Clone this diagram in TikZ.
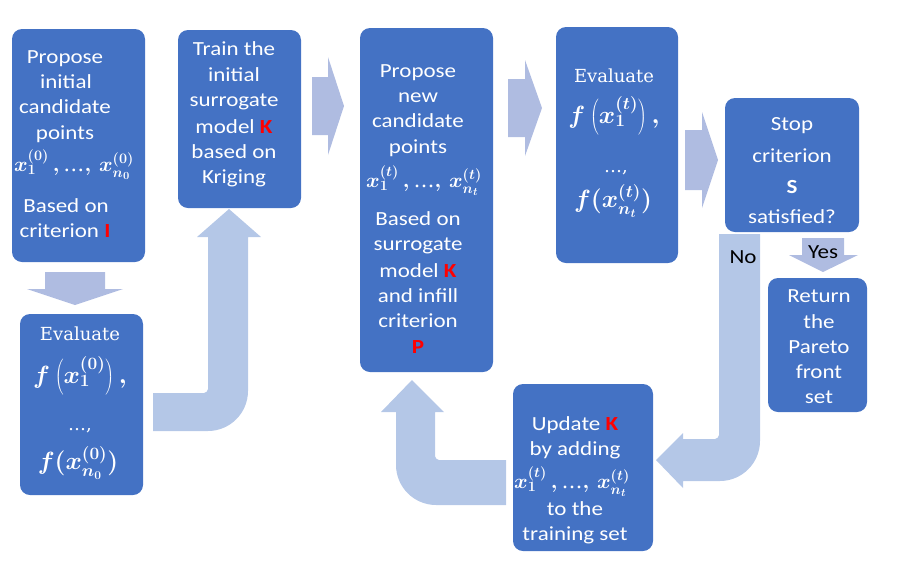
\documentclass[tikz,border=0pt]{standalone}
\usepackage{graphicx}
\usepackage{fontspec}
\newfontfamily\calib[FakeStretch=1.15]{Carlito}
\newfontfamily\camb{DejaVu Serif}
\definecolor{boxblue}{HTML}{4472C4}
\definecolor{arrowlight}{HTML}{B4C7E7}
\definecolor{arrowmid}{HTML}{AFBCE1}
\definecolor{kred}{HTML}{FF0000}
\newcommand{\rk}[1]{\textcolor{kred}{\textbf{#1}}}
\newcommand{\elli}{\mbox{\camb …}}
\tikzset{
  box/.style={fill=boxblue, rounded corners=10pt, inner sep=0pt, draw=none},
  txt/.style={text=white, anchor=base, inner sep=0pt, font=\calib\fontsize{20}{24}\selectfont},
  mtxt/.style={text=white, anchor=base, inner sep=0pt, font=\fontsize{21}{24}\selectfont\boldmath},
  ftxt/.style={text=white, anchor=base, inner sep=0pt, font=\fontsize{23}{26}\selectfont\boldmath},
  etxt/.style={text=white, anchor=base, inner sep=0pt, font=\camb\fontsize{18}{22}\selectfont},
  lbl/.style={text=black, anchor=base, inner sep=0pt, font=\calib\fontsize{20}{24}\selectfont},
  bigarrow/.style={fill=arrowlight, draw=none},
  smallarrow/.style={fill=arrowmid, draw=none}
}
\begin{document}
\begin{tikzpicture}[x=1pt,y=-1pt]
\useasboundingbox (0,0) rectangle (911,582);
% block arrows
\fill[smallarrow] (45,272) -- (105,272) -- (105,289) -- (123,289) -- (75,305) -- (27,289) -- (45,289) -- cycle;
\fill[smallarrow] (312,77) -- (328,77) -- (328,57) -- (344,106) -- (328,155) -- (328,135) -- (312,135) -- cycle;
\fill[smallarrow] (508,79) -- (525,79) -- (525,60) -- (542,108) -- (525,156) -- (525,137) -- (508,137) -- cycle;
\fill[smallarrow] (685,130) -- (702,130) -- (702,112) -- (718,160) -- (702,208) -- (702,190) -- (685,190) -- cycle;
\fill[smallarrow] (802,238) -- (844,238) -- (844,255) -- (858,255) -- (823,272) -- (789,255) -- (802,255) -- cycle;
\fill[bigarrow] (153,393) -- (204,393) .. controls (206,393) and (208,391) .. (208,389) -- (208,237) -- (197,237) -- (229,209) -- (261,237) -- (248,237) -- (248,391) .. controls (248,413) and (230,431) .. (208,431) -- (153,431) -- cycle;
\fill[bigarrow] (719,234) -- (760,234) -- (760,441) .. controls (760,463) and (742,481) .. (720,481) -- (683,481) -- (683,488) -- (656,460) -- (683,433) -- (683,439) -- (715,439) .. controls (717,439) and (719,437) .. (719,435) -- cycle;
\fill[bigarrow] (506,460) -- (439,460) .. controls (437,460) and (435,458) .. (435,456) -- (435,412) -- (444,412) -- (412,380) -- (381,412) -- (396,412) -- (396,465) .. controls (396,487) and (414,505) .. (436,505) -- (506,505) -- cycle;
\node[lbl] (no) at (743,263) {No};
\node[lbl] (yes) at (823,258) {Yes};
% boxes
\node[box, minimum width=133pt, minimum height=233pt] (b1) at (78.5,145.5) {};
\node[box, minimum width=123pt, minimum height=178pt] (b2) at (239.5,119) {};
\node[box, minimum width=123pt, minimum height=181pt] (e1) at (81.5,404.5) {};
\node[box, minimum width=133pt, minimum height=344pt] (b3) at (426.5,200) {};
\node[box, minimum width=122pt, minimum height=236pt] (e2) at (617,145) {};
\node[box, minimum width=134pt, minimum height=134pt] (st) at (792,165) {};
\node[box, minimum width=99pt, minimum height=134pt] (rt) at (817.5,345) {};
\node[box, minimum width=140pt, minimum height=167pt] (up) at (583,467.5) {};
% box 1
\node[txt] (b1a) at (65,63) {Propose};
\node[txt] (b1b) at (66,88) {initial};
\node[txt] (b1c) at (65,113) {candidate};
\node[txt] (b1d) at (65,139) {points};
\node[mtxt] (b1e) at (74,171) {$x_1^{(0)}\,,\elli,\,x_{n_0}^{(0)}$};
\node[txt] (b1f) at (66,212) {Based on};
\node[txt] (b1g) at (65,237) {criterion \rk{I}};
% box 2
\node[txt] (b2a) at (234,55) {Train the};
\node[txt] (b2b) at (234,81) {initial};
\node[txt] (b2c) at (234,106) {surrogate};
\node[txt] (b2d) at (234,133) {model \rk{K}};
\node[txt] (b2e) at (234,158) {based on};
\node[txt] (b2f) at (234,183) {Kriging};
% evaluate 1
\node[etxt] (e1a) at (80,340) {Evaluate};
\node[ftxt] (e1b) at (80,383) {$f\left(x_1^{(0)}\right),$};
\node[etxt] (e1c) at (80,430) {…,};
\node[ftxt] (e1d) at (78,469) {$f(x_{n_0}^{(0)})$};
% box 3
\node[txt] (b3a) at (418,77) {Propose};
\node[txt] (b3b) at (418,102) {new};
\node[txt] (b3c) at (418,127) {candidate};
\node[txt] (b3d) at (418,153) {points};
\node[mtxt] (b3e) at (424,187) {$x_1^{(t)}\,,\elli,\,x_{n_t}^{(t)}$};
\node[txt] (b3f) at (418,225) {Based on};
\node[txt] (b3g) at (418,250) {surrogate};
\node[txt] (b3h) at (418,277) {model \rk{K}};
\node[txt] (b3i) at (418,302) {and infill};
\node[txt] (b3j) at (418,327) {criterion};
\node[txt] (b3k) at (418,353) {\rk{P}};
% evaluate 2
\node[etxt] (e2a) at (614,82) {Evaluate};
\node[ftxt] (e2b) at (614,123) {$f\left(x_1^{(t)}\right),$};
\node[etxt] (e2c) at (616,172) {…,};
\node[ftxt] (e2d) at (613,207) {$f(x_{n_t}^{(t)})$};
% stop
\node[txt] (sta) at (792,130) {Stop};
\node[txt] (stb) at (792,162) {criterion};
\node[txt] (stc) at (792,193) {\textbf{S}};
\node[txt] (std) at (792,223) {satisfied?};
% return
\node[txt] (rta) at (819,302) {Return};
\node[txt] (rtb) at (819,328) {the};
\node[txt] (rtc) at (819,353) {Pareto};
\node[txt] (rtd) at (819,378) {front};
\node[txt] (rte) at (819,403) {set};
% update
\node[txt] (upa) at (575,430) {Update \rk{K}};
\node[txt] (upb) at (575,455) {by adding};
\node[mtxt] (upc) at (572,488) {$x_1^{(t)}\,,\elli,\,x_{n_t}^{(t)}$};
\node[txt] (upd) at (575,515) {to the};
\node[txt] (upe) at (575,540) {training set};
\end{tikzpicture}
\end{document}
